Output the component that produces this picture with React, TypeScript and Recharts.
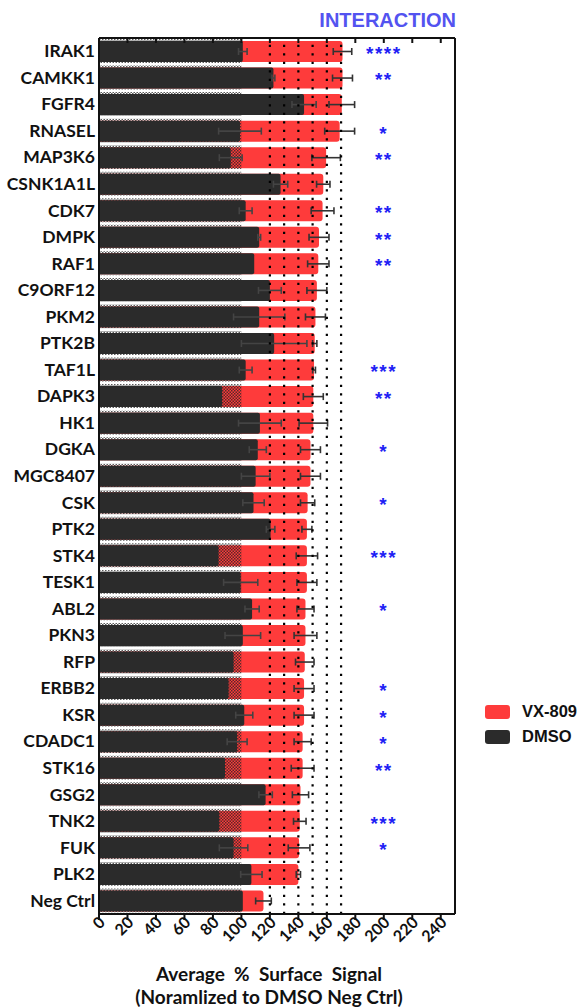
import React from 'react';
import { Bar, BarChart, ErrorBar, LabelList, Label, ReferenceLine, XAxis, YAxis } from 'recharts';

const genes = [
  'IRAK1', 'CAMKK1', 'FGFR4', 'RNASEL', 'MAP3K6', 'CSNK1A1L', 'CDK7', 'DMPK', 'RAF1', 'C9ORF12', 'PKM2',
  'PTK2B', 'TAF1L', 'DAPK3', 'HK1', 'DGKA', 'MGC8407', 'CSK', 'PTK2', 'STK4', 'TESK1', 'ABL2', 'PKN3',
  'RFP', 'ERBB2', 'KSR', 'CDADC1', 'STK16', 'GSG2', 'TNK2', 'FUK', 'PLK2', 'Neg Ctrl',
];
const vx809 = [
  171, 171, 170.5, 169, 159.5, 157.5, 157, 154.5, 154, 153, 152, 151.5, 151, 150.5, 150.5, 148.5, 148.5,
  146.5, 146, 146, 146, 145, 145, 144.5, 144, 144, 143, 143, 141.5, 141, 140.5, 140, 115.5,
];
const vx809Err = [
  6.5, 7, 9, 10.5, 10, 4.7, 8, 7, 7.5, 7, 7, 1.5, 1, 7, 10, 7, 7, 5, 3.5, 7.5, 7, 6, 8, 6.5, 7, 7, 6, 8,
  5.7, 4.4, 7.6, 1.5, 5.5,
];
const dmso = [
  101, 122.5, 144, 99, 92.5, 127.5, 103, 112.5, 109, 120, 112.5, 123, 103, 86.5, 113, 111.5, 110, 108.5,
  120.5, 84, 99.5, 107.5, 101, 94.5, 91, 102, 97, 88.5, 117, 84.5, 94.5, 107, 101,
];
const dmsoErr = [
  3, 1, 8.5, 15, 8, 5, 4.5, 1, 0, 8, 18, 23, 4.5, 0, 15, 6, 10, 7.5, 3, 0, 12, 5, 12.5, 0, 0, 6, 7, 0, 4.7,
  0, 10, 7.5, 0,
];
const negCtrl = genes.map(() => 100);
const stars = [
  '****', '**', '', '*', '**', '', '**', '**', '**', '', '', '', '***', '**', '', '*', '', '*', '', '***',
  '', '*', '', '', '*', '*', '*', '**', '', '***', '*', '', '',
];
const xTicks = [0, 20, 40, 60, 80, 100, 120, 140, 160, 180, 200, 220, 240];
const guideLines = [120, 130, 140, 150, 160, 170];
const series = [
  { name: 'VX-809', color: '#fe3b3b' },
  { name: 'DMSO', color: '#2b2b2b' },
];

const rows = genes.map((name, i) => ({
  name,
  vx: vx809[i],
  vxErr: vx809Err[i],
  dmso: dmso[i],
  dmsoErr: dmsoErr[i],
  base: negCtrl[i],
  stars: stars[i],
}));

const labelFont = 'Lato, "Open Sans", sans-serif';
const arial = '"Liberation Sans", Arial, sans-serif';

function XTick({ x, y, payload }: any) {
  return (
    <g transform={`translate(${x},${y})`}>
      <text
        x={4}
        y={6}
        textAnchor="end"
        transform="rotate(-45)"
        fontFamily={labelFont}
        fontWeight={700}
        fontSize={16}
        fill="#111"
      >
        {payload.value}
      </text>
    </g>
  );
}

function NoTick() {
  return <g />;
}

function YTick({ x, y, payload }: any) {
  return (
    <text
      x={x + 4}
      y={y}
      dy={6}
      textAnchor="end"
      fontFamily={labelFont}
      fontWeight={700}
      fontSize={17.5}
      fill="#111"
    >
      {payload.value}
    </text>
  );
}

function Stars(props: any) {
  const { x, y, width, height, value } = props;
  if (!value) return null;
  return (
    <text
      x={x + width * 2}
      y={y + height / 2 + 9}
      textAnchor="middle"
      fontFamily={arial}
      fontWeight={700}
      fontSize={19}
      letterSpacing={1.5}
      fill="#1f1ff5"
    >
      {value}
    </text>
  );
}

function AxisTitle({ viewBox }: any) {
  const cx = viewBox.x + viewBox.width / 2 - 8;
  return (
    <g fontFamily={labelFont} fontWeight={700} fontSize={19} fill="#111" textAnchor="middle">
      <text x={cx} y={viewBox.y + 67} style={{ whiteSpace: 'pre' }}>
        Average  %  Surface  Signal
      </text>
      <text x={cx} y={viewBox.y + 90}>
        (Noramlized to DMSO Neg Ctrl)
      </text>
    </g>
  );
}

export default function App() {
  return (
    <div style={{ position: 'absolute', left: 0, top: 0, width: 581, height: 1008, background: '#fff' }}>
      <div
        style={{
          position: 'absolute',
          right: 581 - 456,
          top: 8,
          fontFamily: arial,
          fontWeight: 700,
          fontSize: 20,
          color: '#5353f0',
          lineHeight: '24px',
        }}
      >
        INTERACTION
      </div>
      <BarChart
        width={581}
        height={1008}
        data={rows}
        layout="vertical"
        margin={{ top: 38, right: 126, bottom: 0, left: 0 }}
      >
        <defs>
          <pattern id="checker" width="3" height="3" patternUnits="userSpaceOnUse">
            <rect x="0" y="0" width="1.5" height="1.5" fill="#222" fillOpacity="0.75" />
            <rect x="1.5" y="1.5" width="1.5" height="1.5" fill="#222" fillOpacity="0.75" />
          </pattern>
        </defs>
        <XAxis
          xAxisId="top"
          orientation="top"
          type="number"
          domain={[0, 250]}
          ticks={xTicks}
          interval={0}
          allowDataOverflow
          height={1}
          mirror
          tick={<NoTick />}
          tickSize={5}
          axisLine={{ stroke: '#111', strokeWidth: 2 }}
          tickLine={{ stroke: '#111', strokeWidth: 2 }}
        />
        <XAxis
          xAxisId="bottom"
          type="number"
          domain={[0, 250]}
          ticks={xTicks}
          interval={0}
          allowDataOverflow
          height={94}
          tickSize={6}
          tick={<XTick />}
          axisLine={{ stroke: '#111', strokeWidth: 2 }}
          tickLine={{ stroke: '#111', strokeWidth: 2 }}
        >
          <Label content={<AxisTitle />} />
        </XAxis>
        <YAxis
          yAxisId="main"
          type="category"
          dataKey="name"
          width={99}
          interval={0}
          tick={<YTick />}
          tickLine={false}
          axisLine={{ stroke: '#111', strokeWidth: 2 }}
        />
        <YAxis yAxisId="red" type="category" dataKey="name" width={0} hide />
        <YAxis yAxisId="chk" type="category" dataKey="name" width={0} hide />
        <YAxis
          yAxisId="right"
          orientation="right"
          type="category"
          dataKey="name"
          width={1}
          mirror
          tick={<NoTick />}
          tickLine={false}
          axisLine={{ stroke: '#111', strokeWidth: 2 }}
        />

        <Bar
          dataKey="vx"
          name={series[0].name}
          xAxisId="bottom"
          yAxisId="red"
          barSize={21}
          fill={series[0].color}
          radius={[0, 3, 3, 0]}
          isAnimationActive={false}
        >
          <ErrorBar dataKey="vxErr" direction="x" width={3.5} stroke="#333" strokeWidth={1.6} />
        </Bar>
        <Bar
          dataKey="base"
          xAxisId="bottom"
          yAxisId="chk"
          barSize={27}
          fill="url(#checker)"
          isAnimationActive={false}
        >
          <LabelList dataKey="stars" content={<Stars />} />
        </Bar>
        <Bar
          dataKey="dmso"
          name={series[1].name}
          xAxisId="bottom"
          yAxisId="main"
          barSize={21}
          fill={series[1].color}
          radius={[0, 2, 2, 0]}
          isAnimationActive={false}
        >
          <ErrorBar dataKey="dmsoErr" direction="x" width={3.5} stroke="#444" strokeWidth={1.6} />
        </Bar>

        {guideLines.map((v) => (
          <ReferenceLine
            key={v}
            x={v}
            xAxisId="bottom"
            yAxisId="main"
            stroke="#000"
            strokeWidth={2.2}
            strokeDasharray="2.2 6.3"
          />
        ))}
      </BarChart>

      {series.map((s, i) => (
        <div
          key={s.name}
          style={{
            position: 'absolute',
            left: 485,
            top: 702 + i * 25,
            display: 'flex',
            alignItems: 'center',
            fontFamily: arial,
            fontWeight: 700,
            fontSize: 16.5,
            color: '#111',
          }}
        >
          <div style={{ width: 25, height: 14, borderRadius: 3, background: s.color, marginRight: 12 }} />
          <span>{s.name}</span>
        </div>
      ))}
    </div>
  );
}
